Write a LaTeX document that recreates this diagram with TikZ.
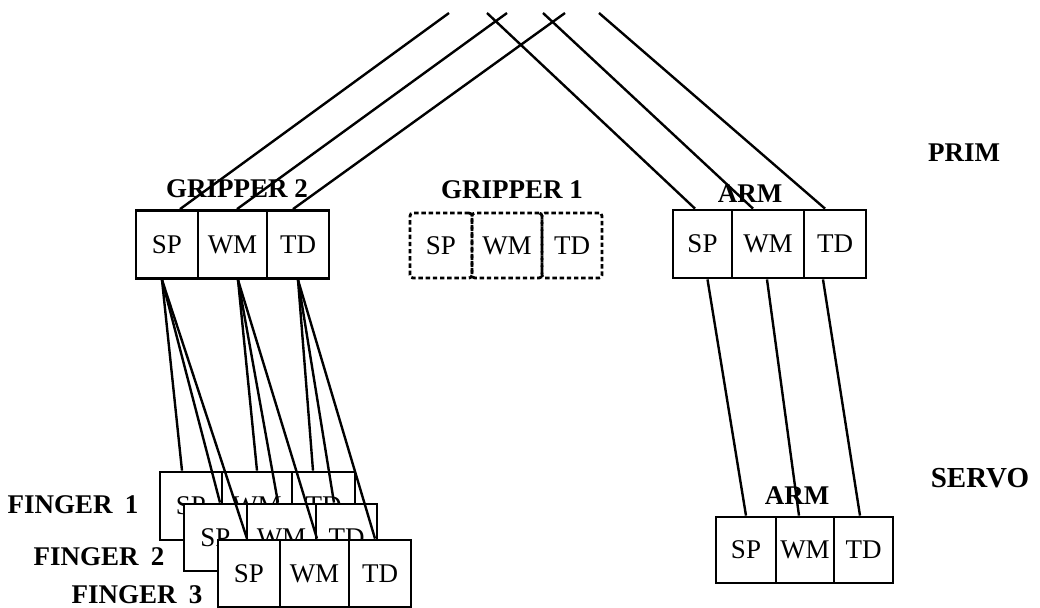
\documentclass[tikz,border=0pt]{standalone}
\usepackage{fontspec}
\setmainfont{Liberation Serif}
\usepackage{tikz}
\usetikzlibrary{positioning}

\begin{document}
\begin{tikzpicture}[
    x=0.5pt, y=-0.5pt,
    cell/.style={
        draw, line width=1.4pt, fill=white, inner sep=0pt,
        minimum height=34pt, font=\fontsize{13.5}{15}\selectfont
    },
    dcell/.style={
        draw, line width=1.4pt, dash pattern=on 2.2pt off 1.4pt, rounded corners=1.5pt,
        inner sep=0pt, minimum height=32.5pt, font=\fontsize{13.5}{15}\selectfont
    },
    lbl/.style={font=\fontsize{13.5}{15}\selectfont\bfseries},
    wire/.style={line width=1.2pt}
]
\useasboundingbox (0,0) rectangle (1040,607);

% Level labels
\node[lbl] (prim) at (964,153) {PRIM};
\node[lbl, font=\fontsize{14.5}{16}\selectfont\bfseries] (servo) at (980,478) {SERVO};

% Module labels
\node[lbl] (lg2) at (237,189) {GRIPPER 2};
\node[lbl] (lg1) at (512,190) {GRIPPER 1};
\node[lbl] (larm) at (750,194) {ARM};
\node[lbl] (lsarm) at (797,496) {ARM};
\node[lbl] (lf1) at (73,505) {FINGER\hspace{0.45em}1};
\node[lbl] (lf2) at (99,557) {FINGER\hspace{0.45em}2};
\node[lbl] (lf3) at (137,595) {FINGER\hspace{0.45em}3};

% Gripper 2 (prim)
\node[cell, minimum width=31pt] (g2sp) at (167,244.5) {SP};
\node[cell, minimum width=34.5pt] (g2wm) at (232.5,244.5) {WM};
\node[cell, minimum width=31pt] (g2td) at (298,244.5) {TD};

% Gripper 1 (prim, dashed)
\node[dcell, minimum width=31pt] (g1sp) at (441,245.5) {SP};
\node[dcell, minimum width=35pt] (g1wm) at (507,245.5) {WM};
\node[dcell, minimum width=30pt] (g1td) at (572,245.5) {TD};

% Arm (prim)
\node[cell, minimum width=29.5pt] (parmsp) at (702.5,244) {SP};
\node[cell, minimum width=36pt] (parmwm) at (768,244) {WM};
\node[cell, minimum width=31pt] (parmtd) at (835,244) {TD};

% Arm (servo)
\node[cell, minimum height=33pt, minimum width=30pt] (sarmsp) at (746,550) {SP};
\node[cell, minimum height=33pt, minimum width=29pt] (sarmwm) at (805,550) {WM};
\node[cell, minimum height=33pt, minimum width=29.5pt] (sarmtd) at (863.5,550) {TD};

% Fingers (servo), stacked front to back
\node[cell, minimum width=31pt] (f1sp) at (191,506) {SP};
\node[cell, minimum width=35pt] (f1wm) at (257,506) {WM};
\node[cell, minimum width=31.5pt] (f1td) at (323.5,506) {TD};

\node[cell, minimum height=33.5pt, minimum width=31.5pt] (f2sp) at (215.5,537.5) {SP};
\node[cell, minimum height=33.5pt, minimum width=34.5pt] (f2wm) at (281.5,537.5) {WM};
\node[cell, minimum height=33.5pt, minimum width=30.5pt] (f2td) at (346.5,537.5) {TD};

\node[cell, minimum height=33.5pt, minimum width=31pt] (f3sp) at (249,573.5) {SP};
\node[cell, minimum height=33.5pt, minimum width=34.5pt] (f3wm) at (314.5,573.5) {WM};
\node[cell, minimum height=33.5pt, minimum width=31pt] (f3td) at (380,573.5) {TD};

% Free ends at the top
\coordinate (gtop1) at (449,13);
\coordinate (gtop2) at (507,13);
\coordinate (gtop3) at (565,13);
\coordinate (atop1) at (487,13);
\coordinate (atop2) at (543,13);
\coordinate (atop3) at (599,13);

% Gripper 2 up
\draw[wire] ([xshift=6.5pt]g2sp.north) -- (gtop1);
\draw[wire] ([xshift=2.25pt]g2wm.north) -- (gtop2);
\draw[wire] ([xshift=-2.5pt]g2td.north) -- (gtop3);

% Arm up
\draw[wire] ([xshift=-3.75pt]parmsp.north) -- (atop1);
\draw[wire] ([xshift=-7.5pt]parmwm.north) -- (atop2);
\draw[wire] ([xshift=-5pt]parmtd.north) -- (atop3);

% Arm prim to arm servo
\draw[wire] ([xshift=2.5pt]parmsp.south) -- (sarmsp.north);
\draw[wire] ([xshift=-0.5pt]parmwm.south) -- ([xshift=-3pt]sarmwm.north);
\draw[wire] ([xshift=-6pt]parmtd.south) -- ([xshift=-1.75pt]sarmtd.north);

% Gripper 2 to fingers
\draw[wire] ([xshift=-2.5pt]g2sp.south) -- ([xshift=-4.5pt]f1sp.north);
\draw[wire] ([xshift=-2.5pt]g2sp.south) -- ([xshift=2.25pt]f2sp.north);
\draw[wire] ([xshift=-2.5pt]g2sp.south) -- ([xshift=-1pt]f3sp.north);

\draw[wire] ([xshift=2.75pt]g2wm.south) -- (f1wm.north);
\draw[wire] ([xshift=2.75pt]g2wm.south) -- ([xshift=-1.75pt]f2wm.north);
\draw[wire] ([xshift=2.75pt]g2wm.south) -- ([xshift=1.25pt]f3wm.north);

\draw[wire] (g2td.south) -- ([xshift=-5.25pt]f1td.north);
\draw[wire] (g2td.south) -- ([xshift=-6.25pt]f2td.north);
\draw[wire] (g2td.south) -- ([xshift=-2.5pt]f3td.north);

\end{tikzpicture}
\end{document}
